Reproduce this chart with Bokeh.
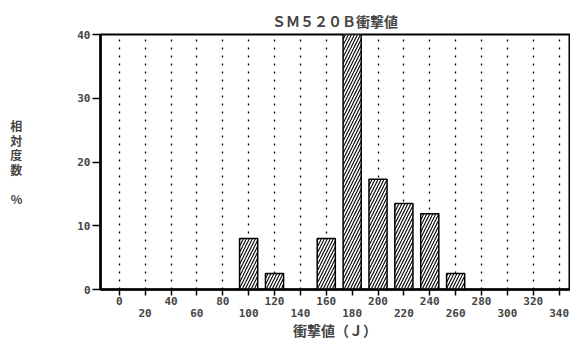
from bokeh.plotting import figure
from bokeh.models import FixedTicker, LinearAxis, Range1d, Grid
from bokeh.embed import file_html
from bokeh.resources import INLINE

# Data
centers = [100, 120, 160, 180, 200, 220, 240, 260]
freq = [8.0, 2.5, 8.0, 40.0, 17.3, 13.5, 11.9, 2.5]
x_ticks = list(range(0, 341, 20))
x_ticks_row1 = list(range(0, 341, 40))
x_ticks_row2 = list(range(20, 341, 40))
y_ticks = [0, 10, 20, 30, 40]

title_text = "ＳＭ５２０Ｂ衝撃値"
x_label = "衝撃値（Ｊ）"
y_label = "相\n対\n度\n数\n\n%"

TICK_FONT = "DejaVu Sans Mono"
CJK_FONT = "Noto Sans CJK JP"

p = figure(width=570, height=342, output_backend="svg", toolbar_location=None,
           x_range=Range1d(-14.5, 348), y_range=Range1d(0, 40),
           min_border_left=100, min_border_right=1, min_border_top=34,
           min_border_bottom=52, x_axis_location=None, y_axis_location=None)

p.title.text = title_text
p.title.align = "center"
p.title.text_font = CJK_FONT
p.title.text_font_size = "14px"
p.title.text_font_style = "bold"
p.title.standoff = 8

p.background_fill_color = "white"
p.border_fill_color = "white"
p.outline_line_color = "black"
p.outline_line_width = 2
p.outline_line_alpha = 1

# Vertical dotted grid
p.ygrid.grid_line_color = None
p.xgrid.grid_line_color = None
vgrid = Grid(dimension=0, ticker=FixedTicker(ticks=x_ticks), grid_line_color="black",
             grid_line_dash="2 6", grid_line_width=1.3)
p.add_layout(vgrid)

# Bars
p.vbar(x=centers, top=freq, bottom=0, width=14, fill_color="white",
       line_color="black", line_width=1.5, hatch_pattern="/", hatch_color="black",
       hatch_scale=6, hatch_weight=1.1)

# Left axis
yax = LinearAxis(ticker=FixedTicker(ticks=y_ticks))
yax.axis_line_width = 2.5
yax.major_tick_out = 8
yax.major_tick_in = 0
yax.major_tick_line_width = 1.5
yax.minor_tick_line_color = None
yax.major_label_standoff = 2
yax.major_label_text_font = TICK_FONT
yax.major_label_text_font_style = "bold"
yax.major_label_text_font_size = "11px"
yax.axis_label = y_label
yax.axis_label_orientation = "horizontal"
yax.axis_label_text_font = CJK_FONT
yax.axis_label_text_font_size = "12px"
yax.axis_label_text_font_style = "bold"
yax.axis_label_text_line_height = 0.85
yax.axis_label_standoff = 52
p.add_layout(yax, "left")

# Bottom axis, row 1
xax1 = LinearAxis(ticker=FixedTicker(ticks=x_ticks))
xax1.major_label_overrides = {t: "" for t in x_ticks_row2}
xax1.axis_line_width = 2.5
xax1.major_tick_out = 6
xax1.major_tick_in = 0
xax1.major_tick_line_width = 1.5
xax1.minor_tick_line_color = None
xax1.major_label_standoff = 1
xax1.major_label_text_font = TICK_FONT
xax1.major_label_text_font_style = "bold"
xax1.major_label_text_font_size = "11px"
p.add_layout(xax1, "below")

# Bottom axis, row 2 (labels only)
xax2 = LinearAxis(ticker=FixedTicker(ticks=x_ticks_row2))
xax2.axis_line_color = None
xax2.major_tick_line_color = None
xax2.major_tick_out = 0
xax2.major_tick_in = 0
xax2.minor_tick_line_color = None
xax2.major_label_standoff = 1
xax2.major_label_text_font = TICK_FONT
xax2.major_label_text_font_style = "bold"
xax2.major_label_text_font_size = "11px"
xax2.axis_label = x_label
xax2.axis_label_text_font = CJK_FONT
xax2.axis_label_text_font_size = "14px"
xax2.axis_label_text_font_style = "bold"
xax2.axis_label_standoff = 0
p.add_layout(xax2, "below")

open("out.html", "w").write(file_html(p, INLINE))
